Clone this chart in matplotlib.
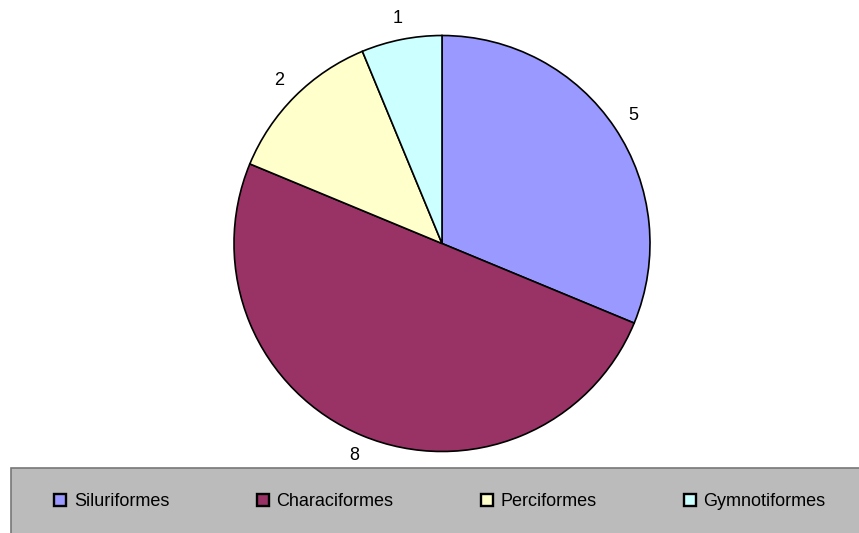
import matplotlib
matplotlib.use('Agg')
import matplotlib.pyplot as plt
from matplotlib.lines import Line2D
from matplotlib.patches import Rectangle

orders = ['Siluriformes', 'Characiformes', 'Perciformes', 'Gymnotiformes']
counts = [5, 8, 2, 1]
colors = ['#9999FF', '#993366', '#FFFFCC', '#CCFFFF']

plt.rcParams['font.family'] = ['Liberation Sans', 'DejaVu Sans']

W, H = 859, 533
fig = plt.figure(figsize=(W / 100, H / 100), dpi=100)

# legend band at the bottom
fig.patches.append(Rectangle((11 / W, -0.05), 1.0, (533 - 468) / H + 0.05,
                             transform=fig.transFigure, facecolor='#BBBBBB',
                             edgecolor='#777777', linewidth=1.2))

cx, cy, r = 442, 243.5, 208
ax = fig.add_axes([(cx - r) / W, (H - cy - r) / H, 2 * r / W, 2 * r / H])
wedges, texts = ax.pie(counts, labels=[str(c) for c in counts], colors=colors,
                       startangle=90, counterclock=False, radius=1,
                       labeldistance=1.105,
                       wedgeprops=dict(edgecolor='black', linewidth=1.2),
                       textprops=dict(fontsize=13))
for t in texts:
    t.set_ha('center')
    t.set_va('center')
ax.set_xlim(-1, 1)
ax.set_ylim(-1, 1)
ax.axis('off')

handles = [Line2D([], [], linestyle='none', marker='s', markersize=8.5,
                  markerfacecolor=c, markeredgecolor='black',
                  markeredgewidth=1.7) for c in colors]
fig.legend(handles, orders, loc='center left', ncol=4, frameon=False,
           bbox_to_anchor=(53 / W, 1 - 502 / H), fontsize=13,
           handlelength=0.8, handletextpad=0.35, columnspacing=4.78,
           borderaxespad=0, borderpad=0)

fig.savefig('out.png', dpi=100)
